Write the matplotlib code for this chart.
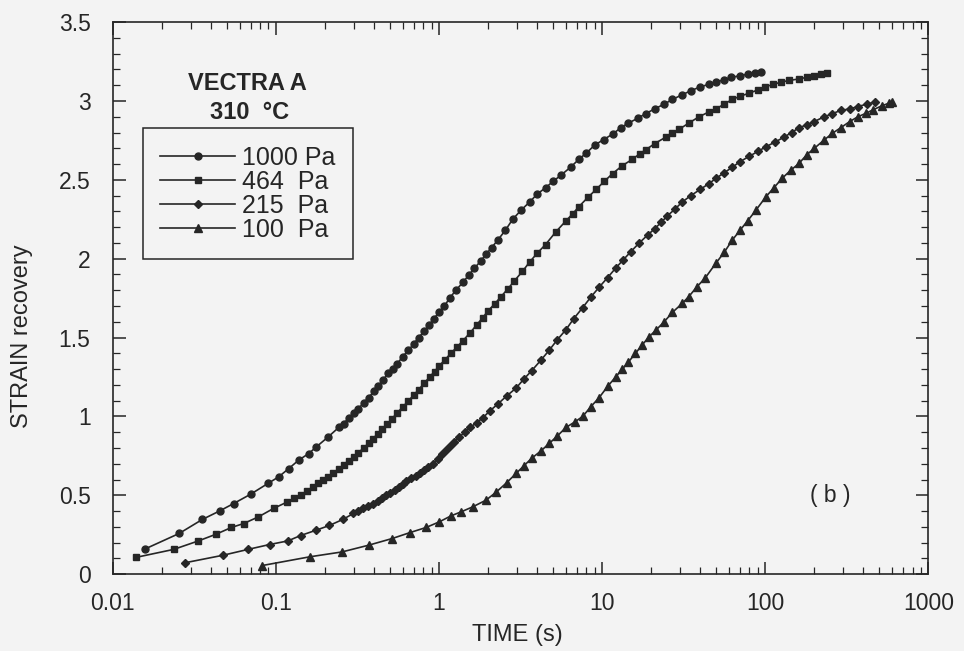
import numpy as np
import matplotlib
matplotlib.use("Agg")
import matplotlib.pyplot as plt
from matplotlib.ticker import LogLocator, MultipleLocator, FixedLocator, FixedFormatter

plt.rcParams['font.family'] = ['Liberation Sans', 'DejaVu Sans']

# values
t_1000 = [0.0157, 0.0255, 0.0354, 0.0452, 0.0551, 0.070, 0.0893, 0.104, 0.120, 0.138,
          0.159, 0.177, 0.209, 0.245, 0.26, 0.28, 0.30, 0.32, 0.345, 0.37, 0.40, 0.425,
          0.452, 0.49, 0.52, 0.55, 0.60, 0.65, 0.70, 0.75, 0.81, 0.87, 0.93, 1.0, 1.08,
          1.16, 1.27, 1.40, 1.52, 1.65, 1.8, 1.95, 2.1, 2.3, 2.55, 2.83, 3.2, 3.6, 4.0,
          4.5, 5.0, 5.6, 6.4, 7.2, 8.0, 9.0, 10.2, 11.6, 13, 14.5, 16.5, 18.5, 21, 24,
          27, 31, 35, 40, 45, 50, 56, 62, 70, 78, 86, 94]
y_1000 = [0.159, 0.258, 0.347, 0.401, 0.448, 0.507, 0.575, 0.617, 0.67, 0.723,
          0.765, 0.807, 0.87, 0.934, 0.955, 0.99, 1.02, 1.05, 1.085, 1.12, 1.16, 1.195,
          1.23, 1.275, 1.30, 1.33, 1.38, 1.42, 1.46, 1.50, 1.54, 1.58, 1.62, 1.66, 1.70,
          1.75, 1.80, 1.85, 1.895, 1.94, 1.985, 2.03, 2.07, 2.12, 2.18, 2.25, 2.31, 2.36, 2.41,
          2.45, 2.49, 2.53, 2.58, 2.63, 2.67, 2.72, 2.755, 2.79, 2.83, 2.86, 2.89, 2.92, 2.95, 2.98,
          3.01, 3.04, 3.065, 3.09, 3.105, 3.12, 3.135, 3.15, 3.16, 3.17, 3.18, 3.185]

t_464 = [0.0138, 0.0236, 0.0335, 0.0431, 0.0533, 0.0634, 0.078, 0.0968, 0.1175, 0.13,
         0.142, 0.155, 0.169, 0.18, 0.194, 0.21, 0.224, 0.245, 0.26, 0.28, 0.30, 0.32,
         0.345, 0.37, 0.395, 0.42, 0.45, 0.48, 0.515, 0.55, 0.60, 0.65, 0.70, 0.75, 0.81,
         0.875, 0.94, 1.0, 1.09, 1.18, 1.29, 1.40, 1.55, 1.7, 1.85, 2.0, 2.2, 2.4, 2.65,
         2.9, 3.25, 3.6, 4.0, 4.5, 5.2, 6.0, 6.6, 7.2, 8.2, 9.2, 10.3, 11.6, 13.3, 15.3,
         17, 18.5, 21, 24.5, 27, 29.6, 34, 39.3, 45, 50, 56, 62.8, 70, 80, 90, 100, 112,
         125, 140, 161, 180, 200, 220, 240]
y_464 = [0.106, 0.157, 0.211, 0.254, 0.296, 0.321, 0.363, 0.417, 0.458, 0.48,
         0.501, 0.528, 0.554, 0.575, 0.596, 0.617, 0.639, 0.670, 0.695, 0.72, 0.745, 0.77,
         0.80, 0.83, 0.86, 0.89, 0.92, 0.95, 0.985, 1.02, 1.06, 1.10, 1.135, 1.17, 1.21,
         1.25, 1.285, 1.32, 1.36, 1.40, 1.44, 1.48, 1.53, 1.58, 1.625, 1.67, 1.715, 1.76, 1.81,
         1.86, 1.92, 1.98, 2.035, 2.09, 2.17, 2.24, 2.285, 2.33, 2.39, 2.44, 2.49, 2.54, 2.59, 2.63,
         2.665, 2.69, 2.73, 2.77, 2.795, 2.82, 2.86, 2.90, 2.93, 2.95, 2.98, 3.01, 3.03, 3.05, 3.07, 3.09, 3.105,
         3.12, 3.13, 3.14, 3.15, 3.16, 3.17, 3.175]

t_215 = [0.0276, 0.0474, 0.0674, 0.0914, 0.1185, 0.1416, 0.1766, 0.213, 0.257, 0.299,
         0.32, 0.341, 0.365, 0.393, 0.42, 0.448, 0.475, 0.502, 0.535, 0.572, 0.60, 0.629,
         0.675, 0.724, 0.77, 0.814, 0.86, 0.915, 0.98, 1.05, 1.1, 1.16, 1.24, 1.33, 1.44,
         1.55, 1.7, 1.85, 2.05, 2.3, 2.6, 2.97, 3.3, 3.7, 4.2, 4.74, 5.3, 6.0, 6.7, 7.6,
         8.5, 9.6, 10.8, 12.1, 13.4, 15, 16.9, 19, 21, 23, 25, 28, 31, 35, 40, 45, 50, 56,
         62.8, 70, 80, 90, 101, 115, 130, 145, 161, 180, 200, 230, 258, 290, 330, 370, 420, 474]
y_215 = [0.072, 0.120, 0.157, 0.188, 0.211, 0.245, 0.279, 0.309, 0.347, 0.385,
         0.40, 0.417, 0.432, 0.448, 0.466, 0.484, 0.50, 0.516, 0.535, 0.553, 0.57, 0.59,
         0.607, 0.625, 0.643, 0.66, 0.68, 0.70, 0.73, 0.76, 0.785, 0.81, 0.84, 0.87, 0.90,
         0.93, 0.96, 0.99, 1.035, 1.08, 1.13, 1.18, 1.235, 1.29, 1.355, 1.42, 1.485, 1.55, 1.62, 1.69,
         1.755, 1.82, 1.88, 1.94, 1.99, 2.045, 2.10, 2.15, 2.19, 2.23, 2.27, 2.315, 2.36, 2.40, 2.44, 2.475, 2.51, 2.545,
         2.58, 2.615, 2.65, 2.68, 2.71, 2.74, 2.77, 2.80, 2.83, 2.85, 2.87, 2.90, 2.92, 2.94, 2.95, 2.965, 2.98, 2.995]

t_100 = [0.0826, 0.161, 0.254, 0.371, 0.516, 0.665, 0.833, 1.005, 1.186, 1.365,
         1.61, 1.94, 2.24, 2.6, 2.97, 3.3, 3.7, 4.2, 4.74, 5.3, 6.0, 6.8, 7.6, 8.5, 9.6,
         10.8, 12.1, 13.3, 14.5, 16, 17.5, 19.4, 21.5, 24, 27, 31, 34, 38, 43, 49.7, 56,
         62.8, 70, 78, 88, 101, 113, 127, 143, 161, 180, 200, 228, 258, 290, 330, 370,
         412, 460, 520, 570, 601]
y_100 = [0.055, 0.110, 0.141, 0.184, 0.226, 0.264, 0.296, 0.332, 0.370, 0.395,
         0.427, 0.469, 0.52, 0.58, 0.639, 0.685, 0.735, 0.78, 0.829, 0.875, 0.93, 0.965, 1.00, 1.06, 1.12,
         1.19, 1.25, 1.30, 1.345, 1.40, 1.45, 1.505, 1.55, 1.60, 1.66, 1.717, 1.76, 1.82, 1.88, 1.97, 2.04,
         2.118, 2.18, 2.24, 2.31, 2.393, 2.45, 2.51, 2.56, 2.604, 2.66, 2.70, 2.75, 2.795, 2.83, 2.87, 2.90,
         2.921, 2.945, 2.97, 2.985, 2.995]

labels = ['1000 Pa', '464  Pa', '215  Pa', '100  Pa']
markers = ['o', 's', 'D', '^']
msizes = [5, 5, 4.2, 5.5]
ink = '#262626'
paper = '#f3f3f3'

fig = plt.figure(figsize=(9.64, 6.51), dpi=100, facecolor=paper)
ax = fig.add_axes([0.117, 0.118, 0.846, 0.848], facecolor=paper)

series = [(t_1000, y_1000), (t_464, y_464), (t_215, y_215), (t_100, y_100)]
for (t, y), lab, mk, ms in zip(series, labels, markers, msizes):
    ax.plot(t, y, color=ink, lw=1.2, marker=mk, ms=ms, mfc=ink, mec=ink, label=lab)

ax.set_xscale('log')
ax.set_xlim(0.01, 1000)
ax.set_ylim(0, 3.5)

ax.xaxis.set_major_locator(FixedLocator([0.01, 0.1, 1, 10, 100, 1000]))
ax.xaxis.set_major_formatter(FixedFormatter(['0.01', '0.1', '1', '10', '100', '1000']))
ax.xaxis.set_minor_locator(LogLocator(base=10, subs=np.arange(2, 10), numticks=20))
ax.yaxis.set_minor_locator(MultipleLocator(0.1))
ax.set_yticks([0, 0.5, 1, 1.5, 2, 2.5, 3, 3.5])
ax.set_yticklabels(['0', '0.5', '1', '1.5', '2', '2.5', '3', '3.5'])

ax.tick_params(which='both', direction='in', top=True, right=True, colors=ink, labelsize=16.5)
ax.tick_params(which='major', length=9, width=1.1)
ax.tick_params(axis='y', which='major', pad=16)
ax.tick_params(axis='x', which='major', pad=13)
ax.tick_params(which='minor', length=5, width=0.9)
for s in ax.spines.values():
    s.set_color(ink)
    s.set_linewidth(1.2)

ax.set_xlabel('TIME (s)', fontsize=17, color=ink)
ax.set_ylabel('STRAIN recovery', fontsize=17, color=ink)
ax.xaxis.set_label_coords(0.496, -0.091)
ax.yaxis.set_label_coords(-0.098, 0.431)

ax.text(0.165, 0.889, 'VECTRA A', transform=ax.transAxes, ha='center', va='center',
        fontsize=17, fontweight='bold', color=ink)
ax.text(0.168, 0.836, '310  °C', transform=ax.transAxes, ha='center', va='center',
        fontsize=17, fontweight='bold', color=ink)
ax.text(0.880, 0.143, '( b )', transform=ax.transAxes, ha='center', va='center',
        fontsize=16.5, color=ink)

leg = ax.legend(loc='upper left', bbox_to_anchor=(0.037, 0.808), borderaxespad=0,
                fontsize=18, handlelength=3.0, numpoints=1, labelspacing=0.0,
                handletextpad=0.25, borderpad=0.7,
                fancybox=False, framealpha=1, facecolor=paper, edgecolor=ink)
leg.get_frame().set_linewidth(1.1)
for txt in leg.get_texts():
    txt.set_color(ink)

fig.savefig('out.png', dpi=100, facecolor=paper)
